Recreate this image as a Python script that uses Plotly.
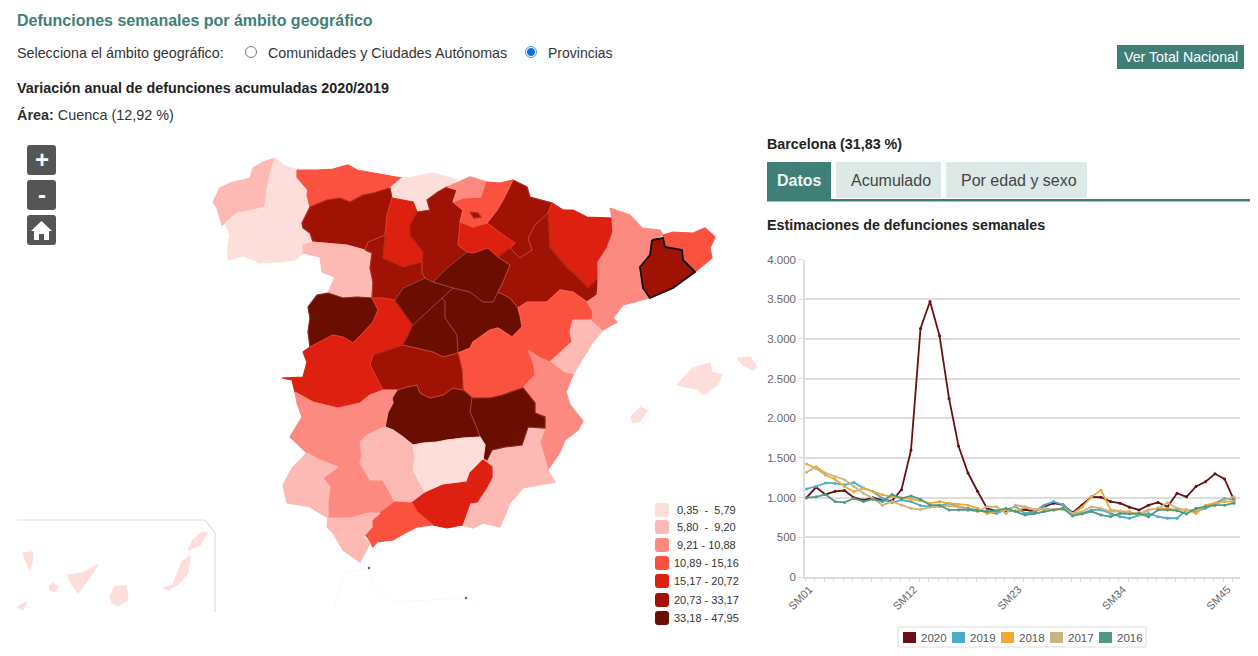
import plotly.graph_objects as go

# semanas del eje x
weeks = ["SM%02d" % i for i in range(1, 47)]
tick_weeks = ["SM01", "SM12", "SM23", "SM34", "SM45"]

# defunciones semanales Barcelona
y2020 = [1000, 1130, 1040, 1080, 1090, 1000, 970, 1000, 970, 960, 1100, 1600, 3130, 3470, 3040, 2250,
         1650, 1310, 1080, 865, 830, 840, 830, 850, 825, 885, 930, 910, 810, 905, 1010, 1005,
         950, 930, 880, 845, 905, 940, 885, 1055, 1010, 1140, 1200, 1300, 1235, 970]
y2019 = [1110, 1140, 1185, 1180, 1160, 1190, 1120, 1075, 990, 935, 970, 950, 900, 885, 895, 930,
         885, 865, 845, 825, 800, 850, 885, 800, 825, 905, 950, 910, 800, 800, 845, 845,
         800, 760, 740, 780, 800, 760, 740, 740, 845, 825, 865, 930, 990, 970]
y2018 = [1425, 1370, 1285, 1230, 1140, 1075, 1120, 1075, 1035, 1010, 1000, 980, 960, 930, 950, 930,
         915, 905, 865, 800, 830, 850, 825, 880, 850, 850, 850, 865, 800, 880, 1010, 1095,
         845, 830, 825, 780, 845, 865, 865, 845, 850, 800, 905, 930, 950, 950]
y2017 = [1320, 1390, 1310, 1265, 1225, 1140, 1055, 990, 905, 950, 905, 865, 850, 880, 885, 895,
         880, 845, 825, 885, 885, 800, 905, 885, 850, 865, 845, 850, 800, 825, 885, 865,
         825, 825, 800, 800, 845, 865, 935, 865, 845, 845, 885, 905, 970, 1010]
y2016 = [1000, 1010, 1040, 950, 940, 990, 950, 980, 950, 1040, 990, 1020, 980, 905, 905, 845,
         845, 845, 835, 825, 835, 865, 825, 780, 800, 825, 845, 865, 770, 795, 825, 780,
         760, 800, 795, 800, 760, 845, 845, 835, 795, 865, 885, 905, 905, 930]
year_names = ["2020", "2019", "2018", "2017", "2016"]
year_values = [y2020, y2019, y2018, y2017, y2016]
year_colors = ["#6b0f14", "#4bacc6", "#f0a835", "#c9b57f", "#4f9a7c"]

# clases del mapa
class_low = ["0,35", "5,80", "9,21", "10,89", "15,17", "20,73", "33,18"]
class_high = ["5,79", "9,20", "10,88", "15,16", "20,72", "33,17", "47,95"]
class_top = [5.79, 9.20, 10.88, 15.16, 20.72, 33.17, 47.95]
class_colors = ["#fddedb", "#fdb9b4", "#fc8a80", "#fb5240", "#de2010", "#a01204", "#6b0e02"]

# variacion por provincia (solo se lee la clase, salvo Cuenca y Barcelona)
province_value = {
    "A Coruña": 7.5, "Lugo": 3.0, "Pontevedra": 3.0, "Ourense": 3.0, "Asturias": 13.0, "Cantabria": 3.0,
    "León": 27.0, "Palencia": 18.0, "Burgos": 27.0, "Zamora": 7.5, "Valladolid": 27.0, "Salamanca": 40.0,
    "Ávila": 18.0, "Segovia": 40.0, "Soria": 40.0, "Guadalajara": 40.0, "Madrid": 40.0, "Cuenca": 12.92,
    "Navarra": 27.0, "La Rioja": 18.0, "Álava": 13.0, "Treviño": 27.0, "Bizkaia": 10.0, "Gipuzkoa": 13.0,
    "Huesca": 18.0, "Zaragoza": 27.0, "Teruel": 13.0, "Castellón": 7.5, "Valencia": 10.0, "Alicante": 10.0,
    "Murcia": 7.5, "Almería": 7.5, "Albacete": 40.0, "Ciudad Real": 40.0, "Toledo": 27.0, "Cáceres": 18.0,
    "Badajoz": 10.0, "Sevilla": 10.0, "Huelva": 7.5, "Córdoba": 7.5, "Jaén": 3.0, "Granada": 18.0,
    "Málaga": 13.0, "Cádiz": 7.5, "Lleida": 10.0, "Tarragona": 10.0, "Girona": 13.0, "Barcelona": 31.83,
    "Mallorca": 3.0, "Menorca": 3.0, "Ibiza": 3.0, "El Hierro": 3.0, "La Palma": 3.0, "La Gomera": 3.0,
    "Tenerife": 3.0, "Gran Canaria": 3.0, "Fuerteventura": 3.0, "Lanzarote": 3.0,
}

# contornos calcados de la imagen, en pixeles de la pagina
province_outline = {
    "A Coruña": [(213, 202), (220, 188), (230, 183), (250, 178), (253, 168), (263, 162), (275, 158), (272, 168), (267, 188), (265, 207), (253, 210), (237, 213), (225, 223), (222, 225), (217, 208)],
    "Lugo": [(275, 158), (283, 165), (297, 170), (297, 177), (308, 190), (307, 195), (310, 207), (307, 213), (302, 223), (303, 228), (290, 233), (278, 232), (265, 223), (265, 207), (267, 188), (272, 168)],
    "Pontevedra": [(225, 223), (237, 213), (253, 210), (265, 207), (265, 223), (250, 227), (250, 237), (255, 248), (255, 260), (243, 256), (228, 260), (228, 245), (230, 235)],
    "Ourense": [(250, 227), (265, 223), (278, 232), (290, 233), (303, 228), (310, 233), (313, 242), (303, 245), (303, 253), (295, 260), (280, 262), (258, 263), (255, 260), (255, 248), (250, 237)],
    "Asturias": [(297, 170), (317, 170), (333, 169), (348, 165), (357, 170), (373, 173), (402, 178), (390, 188), (373, 193), (363, 195), (350, 202), (340, 198), (327, 200), (310, 207), (307, 195), (308, 190), (297, 177)],
    "Cantabria": [(402, 178), (413, 177), (433, 173), (457, 180), (447, 187), (438, 192), (427, 200), (430, 210), (417, 212), (413, 202), (392, 198), (390, 188)],
    "León": [(310, 207), (327, 200), (340, 198), (350, 202), (363, 195), (373, 193), (390, 188), (392, 198), (387, 215), (385, 235), (368, 242), (365, 250), (347, 245), (323, 243), (313, 242), (310, 233), (303, 228), (302, 223), (307, 213)],
    "Palencia": [(392, 198), (413, 202), (417, 212), (410, 225), (410, 235), (423, 252), (422, 262), (403, 267), (383, 258), (385, 235), (387, 215)],
    "Burgos": [(417, 212), (430, 210), (427, 200), (438, 192), (447, 187), (457, 190), (453, 202), (463, 210), (460, 222), (458, 245), (467, 252), (447, 268), (433, 282), (425, 278), (422, 273), (422, 262), (423, 252), (410, 235), (410, 225)],
    "Zamora": [(303, 253), (303, 245), (313, 242), (323, 243), (347, 245), (365, 250), (372, 253), (370, 268), (373, 282), (372, 298), (357, 297), (343, 298), (328, 293), (335, 277), (322, 272), (320, 257)],
    "Valladolid": [(365, 250), (368, 242), (385, 235), (383, 258), (403, 267), (422, 262), (422, 273), (425, 278), (403, 288), (395, 300), (383, 298), (372, 298), (373, 282), (370, 268), (372, 253)],
    "Salamanca": [(308, 307), (317, 295), (328, 293), (343, 298), (357, 297), (372, 298), (378, 310), (373, 322), (363, 333), (353, 343), (343, 337), (333, 335), (310, 347), (308, 332), (310, 318)],
    "Ávila": [(372, 298), (383, 298), (395, 300), (413, 325), (407, 338), (403, 345), (373, 355), (353, 343), (363, 333), (373, 322), (378, 310)],
    "Segovia": [(395, 300), (403, 288), (425, 278), (433, 282), (453, 288), (442, 298), (427, 312), (413, 325)],
    "Soria": [(433, 282), (447, 268), (467, 252), (473, 253), (488, 248), (498, 257), (510, 265), (503, 282), (498, 292), (493, 302), (483, 302), (470, 292), (453, 288)],
    "Guadalajara": [(453, 288), (470, 292), (483, 302), (493, 302), (498, 292), (510, 298), (518, 308), (520, 315), (522, 327), (512, 337), (498, 328), (490, 330), (473, 342), (470, 348), (458, 353), (457, 335), (445, 318), (445, 302), (442, 298)],
    "Madrid": [(442, 298), (445, 302), (445, 318), (457, 335), (458, 353), (443, 357), (433, 352), (403, 345), (407, 338), (413, 325), (427, 312)],
    "Cuenca": [(458, 353), (470, 348), (473, 342), (490, 330), (498, 328), (512, 337), (515, 342), (528, 350), (533, 362), (535, 375), (523, 388), (503, 395), (490, 398), (472, 398), (463, 390), (462, 370)],
    "Navarra": [(503, 200), (513, 180), (527, 187), (530, 197), (552, 203), (548, 213), (535, 225), (528, 238), (532, 250), (520, 258), (510, 248), (515, 243), (503, 235), (487, 223), (497, 210)],
    "La Rioja": [(460, 222), (473, 227), (487, 223), (503, 235), (515, 243), (510, 248), (498, 257), (488, 248), (473, 253), (467, 252), (458, 245)],
    "Álava": [(453, 202), (463, 198), (482, 197), (493, 205), (497, 210), (487, 223), (473, 227), (460, 222), (463, 210)],
    "Treviño": [(470, 212), (478, 213), (481, 217), (474, 218)],
    "Bizkaia": [(447, 187), (463, 180), (470, 177), (487, 182), (482, 197), (463, 198), (453, 202), (457, 190)],
    "Gipuzkoa": [(487, 182), (500, 183), (513, 180), (503, 200), (497, 210), (493, 205), (482, 197)],
    "Huesca": [(552, 203), (563, 210), (573, 210), (587, 217), (612, 218), (613, 232), (607, 248), (598, 262), (598, 278), (588, 288), (573, 273), (567, 268), (550, 248), (548, 213)],
    "Zaragoza": [(510, 248), (520, 258), (532, 250), (528, 238), (535, 225), (548, 213), (550, 248), (567, 268), (573, 273), (588, 288), (598, 278), (598, 285), (597, 295), (587, 302), (573, 292), (560, 290), (547, 302), (527, 302), (518, 308), (510, 298), (498, 292), (503, 282), (510, 265), (498, 257)],
    "Teruel": [(518, 308), (527, 302), (547, 302), (560, 290), (573, 292), (587, 302), (593, 312), (592, 320), (573, 320), (570, 332), (572, 342), (560, 353), (550, 362), (540, 358), (528, 350), (515, 342), (512, 337), (522, 327), (520, 315)],
    "Castellón": [(573, 320), (592, 320), (603, 330), (593, 342), (583, 358), (573, 375), (563, 372), (550, 362), (560, 353), (572, 342), (570, 332)],
    "Valencia": [(523, 388), (535, 375), (533, 362), (528, 350), (540, 358), (550, 362), (563, 372), (573, 375), (566, 392), (570, 405), (560, 418), (545, 417), (535, 413), (535, 403)],
    "Alicante": [(545, 417), (560, 418), (570, 405), (583, 421), (578, 430), (565, 440), (560, 452), (553, 463), (548, 470), (540, 442), (545, 428)],
    "Murcia": [(505, 447), (522, 445), (528, 427), (545, 428), (540, 442), (548, 470), (555, 482), (523, 488), (510, 503), (503, 480)],
    "Almería": [(483, 460), (487, 460), (492, 450), (505, 447), (503, 480), (510, 503), (500, 527), (483, 523), (473, 528), (462, 525), (470, 503), (477, 502), (487, 487), (492, 477), (492, 467)],
    "Albacete": [(472, 398), (490, 398), (503, 395), (523, 388), (535, 403), (535, 413), (545, 417), (545, 428), (528, 427), (522, 445), (505, 447), (492, 450), (487, 460), (483, 458), (485, 445), (480, 437), (477, 428), (470, 412)],
    "Ciudad Real": [(397, 390), (407, 387), (417, 385), (420, 393), (430, 398), (443, 395), (453, 388), (463, 390), (472, 398), (470, 412), (477, 428), (480, 437), (463, 438), (447, 440), (437, 442), (423, 443), (413, 445), (403, 437), (393, 430), (385, 427), (388, 412), (393, 403), (392, 398)],
    "Toledo": [(373, 355), (403, 345), (433, 352), (443, 357), (458, 353), (462, 370), (463, 390), (453, 388), (443, 395), (430, 398), (420, 393), (417, 385), (407, 387), (397, 390), (383, 390), (377, 378), (370, 365)],
    "Cáceres": [(303, 352), (310, 347), (333, 335), (343, 337), (353, 343), (373, 355), (370, 365), (377, 378), (383, 390), (370, 395), (360, 403), (338, 408), (313, 402), (295, 392), (292, 380), (282, 378), (303, 377), (307, 362)],
    "Badajoz": [(295, 392), (313, 402), (338, 408), (360, 403), (370, 395), (383, 390), (397, 390), (392, 398), (393, 403), (388, 412), (385, 427), (367, 435), (360, 442), (362, 455), (360, 463), (338, 467), (320, 460), (307, 453), (290, 437), (302, 417), (297, 403)],
    "Sevilla": [(338, 467), (360, 463), (370, 480), (383, 480), (395, 502), (380, 513), (368, 513), (350, 518), (328, 518), (328, 500), (330, 487), (323, 478)],
    "Huelva": [(307, 453), (320, 460), (338, 467), (323, 478), (330, 487), (328, 500), (328, 518), (310, 507), (287, 503), (283, 485), (292, 468)],
    "Córdoba": [(360, 442), (367, 435), (385, 427), (393, 430), (403, 437), (413, 445), (415, 458), (413, 470), (422, 487), (425, 493), (412, 503), (395, 502), (383, 480), (370, 480), (360, 463), (362, 455)],
    "Jaén": [(413, 445), (423, 443), (437, 442), (447, 440), (463, 438), (480, 437), (485, 445), (483, 458), (483, 460), (470, 473), (467, 482), (443, 485), (425, 493), (422, 487), (413, 470), (415, 458)],
    "Granada": [(483, 460), (492, 467), (492, 477), (487, 487), (477, 502), (470, 503), (462, 525), (447, 528), (433, 525), (417, 512), (412, 503), (425, 493), (443, 485), (467, 482), (470, 473)],
    "Málaga": [(412, 503), (417, 512), (433, 525), (417, 527), (405, 533), (393, 540), (377, 542), (373, 547), (368, 538), (365, 535), (372, 527), (372, 520), (380, 513), (395, 502)],
    "Cádiz": [(328, 518), (350, 518), (368, 513), (380, 513), (372, 520), (372, 527), (363, 537), (370, 543), (360, 562), (343, 550), (333, 533), (327, 527)],
    "Lleida": [(610, 208), (630, 215), (642, 228), (660, 230), (663, 235), (652, 240), (650, 255), (640, 267), (643, 288), (598, 285), (598, 278), (598, 262), (607, 248), (613, 232), (612, 218)],
    "Tarragona": [(598, 285), (643, 288), (650, 298), (623, 305), (613, 318), (617, 322), (603, 330), (592, 320), (593, 312), (587, 302), (597, 295)],
    "Girona": [(663, 235), (673, 232), (693, 233), (705, 228), (715, 237), (710, 248), (712, 258), (695, 272), (683, 260), (682, 250), (665, 247)],
    "Barcelona": [(652, 240), (663, 238), (665, 247), (682, 250), (683, 260), (695, 272), (673, 288), (650, 298), (643, 288), (640, 267), (650, 255)],
    "Mallorca": [(677, 385), (693, 368), (710, 363), (712, 372), (722, 375), (718, 384), (703, 395), (697, 389)],
    "Menorca": [(737, 358), (750, 357), (757, 367), (753, 370), (743, 365)],
    "Ibiza": [(631, 417), (641, 407), (647, 411), (640, 421), (633, 423)],
    "El Hierro": [(17, 607), (26, 602), (23, 610)],
    "La Palma": [(23, 553), (32, 552), (33, 558), (30, 570), (25, 560)],
    "La Gomera": [(49, 586), (53, 583), (58, 587), (54, 592), (50, 590)],
    "Tenerife": [(67, 575), (82, 573), (98, 565), (90, 577), (78, 593), (72, 585)],
    "Gran Canaria": [(110, 596), (115, 586), (126, 586), (128, 600), (118, 606), (112, 603)],
    "Fuerteventura": [(163, 588), (173, 585), (182, 562), (190, 556), (188, 573), (177, 585), (168, 590)],
    "Lanzarote": [(188, 550), (193, 540), (203, 532), (207, 533), (200, 545)],
}
ceuta_melilla_line = [(333, 610), (345, 573), (368, 568), (373, 587), (393, 602), (433, 600), (465, 598), (483, 607)]
ceuta_melilla_dots = [(369, 568), (466, 598)]

TEAL = "#3f7f77"
FONT = "Liberation Sans"


def class_color(v):
    for top, col in zip(class_top, class_colors):
        if v <= top:
            return col
    return class_colors[-1]


fig = go.Figure()

# grafico de lineas
for name, vals, col in zip(year_names, year_values, year_colors):
    fig.add_trace(go.Scatter(x=list(range(len(weeks))), y=vals, name=name, mode="lines+markers",
                             customdata=weeks, hovertemplate="%{customdata}: %{y}<extra>" + name + "</extra>",
                             line=dict(color=col, width=1.8), marker=dict(color=col, size=3)))

# mapa, pintado sobre un eje oculto en pixeles
for name, pts in province_outline.items():
    col = class_color(province_value[name])
    fig.add_trace(go.Scatter(x=[p[0] for p in pts] + [pts[0][0]], y=[p[1] for p in pts] + [pts[0][1]],
                             xaxis="x2", yaxis="y2", mode="lines", fill="toself", name=name, fillcolor=col,
                             line=dict(color=col, width=1.2),
                             text="%s (%s %%)" % (name, province_value[name]), hoverinfo="text"))

# bordes finos solo en las clases oscuras, y Barcelona en negro
for name, pts in province_outline.items():
    if name == "Barcelona":
        edge = dict(color="#111111", width=1.8)
    elif province_value[name] > class_top[4]:
        edge = dict(color="rgba(255,170,150,0.3)", width=0.7)
    else:
        continue
    fig.add_trace(go.Scatter(x=[p[0] for p in pts] + [pts[0][0]], y=[p[1] for p in pts] + [pts[0][1]],
                             xaxis="x2", yaxis="y2", mode="lines", line=edge, hoverinfo="skip"))

fig.add_trace(go.Scatter(x=[p[0] for p in ceuta_melilla_line], y=[p[1] for p in ceuta_melilla_line],
                         xaxis="x2", yaxis="y2", mode="lines", line=dict(color="#f5f6f6", width=0.8), hoverinfo="skip"))
fig.add_trace(go.Scatter(x=[p[0] for p in ceuta_melilla_dots], y=[p[1] for p in ceuta_melilla_dots],
                         xaxis="x2", yaxis="y2", mode="markers", marker=dict(color="#666666", size=2.5), hoverinfo="skip"))

shapes = []
annotations = []


def text(x, y, s, size=14, color="#333333", anchor="left"):
    annotations.append(dict(x=x - 1 if anchor == "left" else x, y=y, xref="x2", yref="y2", text=s, showarrow=False,
                            xanchor=anchor, yanchor="middle", borderpad=0,
                            font=dict(family=FONT, size=size, color=color)))


def rect(x0, y0, x1, y1, fill, line=None, width=1):
    shapes.append(dict(type="rect", xref="x2", yref="y2", x0=x0, y0=y0, x1=x1, y1=y1, fillcolor=fill,
                       line=dict(color=line or fill, width=width if line else 0), layer="below"))


def rounded(x0, y0, x1, y1, r, fill):
    path = ("M %s %s L %s %s Q %s %s %s %s L %s %s Q %s %s %s %s L %s %s Q %s %s %s %s L %s %s Q %s %s %s %s Z"
            % (x0 + r, y0, x1 - r, y0, x1, y0, x1, y0 + r, x1, y1 - r, x1, y1, x1 - r, y1,
               x0 + r, y1, x0, y1, x0, y1 - r, x0, y0 + r, x0, y0, x0 + r, y0))
    shapes.append(dict(type="path", xref="x2", yref="y2", path=path, fillcolor=fill, line=dict(width=0), layer="below"))


def circle(cx, cy, r, fill, line, width=1):
    shapes.append(dict(type="circle", xref="x2", yref="y2", x0=cx - r, y0=cy - r, x1=cx + r, y1=cy + r,
                       fillcolor=fill, line=dict(color=line, width=width), layer="below"))


# cabecera
text(17, 20, "<b>Defunciones semanales por ámbito geográfico</b>", 16, TEAL)
text(17, 53, "Selecciona el ámbito geográfico:", 14.3, "#333333")
circle(251, 52, 5.5, "white", "#777777")
text(268, 53, "Comunidades y Ciudades Autónomas", 14.3, "#333333")
circle(531, 52, 5.5, "white", "#4a90e2")
circle(531, 52, 3.6, "#0f6fd8", "#0f6fd8")
text(548, 53, "Provincias", 14, "#333333")
text(17, 88, "<b>Variación anual de defunciones acumuladas 2020/2019</b>", 14.3, "#222222")
text(17, 115, "<b>Área:</b> Cuenca (12,92 %)", 14.4, "#333333")

rect(1117, 45, 1244, 69, TEAL)
text(1180.5, 57, "Ver Total Nacional", 14.2, "white", "center")

# controles de zoom del mapa
rounded(27, 145, 56, 175, 3, "#555555")
text(41.5, 159, "<b>+</b>", 24, "white", "center")
rounded(27, 180, 56, 210, 3, "#555555")
text(41.5, 194, "<b>-</b>", 24, "white", "center")
rounded(27, 215, 56, 245, 3, "#555555")
shapes.append(dict(type="path", xref="x2", yref="y2", fillcolor="white", line=dict(width=0),
                   path="M 41.5 221 L 52 231 L 49 231 L 49 240 L 44 240 L 44 234 L 39 234 L 39 240 L 34 240 L 34 231 L 31 231 Z"))

# recuadro de Canarias
shapes.append(dict(type="path", xref="x2", yref="y2", path="M 17 520 L 205 520 L 215 533 L 215 612",
                   line=dict(color="#dddddd", width=1.2), layer="below"))

# leyenda del mapa
legend_y = [510, 527, 545, 563, 581, 600, 618]
for low, high, col, ly in zip(class_low, class_high, class_colors, legend_y):
    rounded(655, ly - 7, 669, ly + 7, 3, col)
    sep = "  -  " if len(high) < 5 else " - "
    text(706, ly, low + sep + high, 11, "#333333", "center")

# panel derecho
text(767, 144, "<b>Barcelona (31,83 %)</b>", 14.3, "#222222")
rect(767, 162, 831, 199, TEAL)
text(799, 180, "<b>Datos</b>", 16, "#eef5f4", "center")
rect(836, 162, 941, 198, "#dce9e7")
text(890.5, 180, "Acumulado", 16, "#444444", "center")
rect(946, 162, 1087, 198, "#dce9e7")
text(1018.5, 180, "Por edad y sexo", 16, "#444444", "center")
rect(767, 199, 1250, 201.5, TEAL)
text(767, 225, "<b>Estimaciones de defunciones semanales</b>", 14.3, "#222222")

# leyenda del grafico de lineas
rect(898, 627, 1146, 647, "white", "#dddddd", 1)
swatch_x = [903, 952, 1001, 1050, 1099]
for sx, name, col in zip(swatch_x, year_names, year_colors):
    rect(sx, 632, sx + 13, 643, col)
    text(sx + 18, 637.5, name, 11.5, "#555555")

fig.update_layout(
    width=1258, height=656, margin=dict(l=0, r=0, t=0, b=0, autoexpand=False), showlegend=False,
    paper_bgcolor="white", plot_bgcolor="rgba(0,0,0,0)", separators=",.",
    font=dict(family=FONT, color="#666666", size=11),
    xaxis=dict(domain=[805 / 1258, 1240 / 1258], range=[-0.16, 45.63], showgrid=False, zeroline=False,
               showline=True, linecolor="#dddddd", linewidth=1.5, ticks="",
               tickmode="array", tickvals=[weeks.index(w) for w in tick_weeks], ticktext=tick_weeks,
               tickangle=-45, tickfont=dict(size=11, color="#666666"), ticklabelshift=3,
               minor=dict(ticks="outside", tick0=-0.16, dtick=1, ticklen=3, tickcolor="#dddddd", tickwidth=1, showgrid=False)),
    yaxis=dict(domain=[1 - 577 / 656, 1 - 259.5 / 656], range=[0, 4000], tick0=0, dtick=500, tickformat=",d",
               showgrid=True, gridcolor="#dddddd", gridwidth=1.5, zeroline=False, showline=True,
               linecolor="#dddddd", linewidth=1.5, ticks="outside", ticklen=5, tickcolor="#dddddd",
               tickfont=dict(size=11.5, color="#666666")),
    xaxis2=dict(domain=[0, 1], range=[0, 1258], visible=False, anchor="y2", fixedrange=True),
    yaxis2=dict(domain=[0, 1], range=[656, 0], visible=False, anchor="x2", fixedrange=True),
    shapes=shapes, annotations=annotations,
)

fig.write_html("out.html", config=dict(displayModeBar=False),
               post_script="document.body.style.margin='0';")
